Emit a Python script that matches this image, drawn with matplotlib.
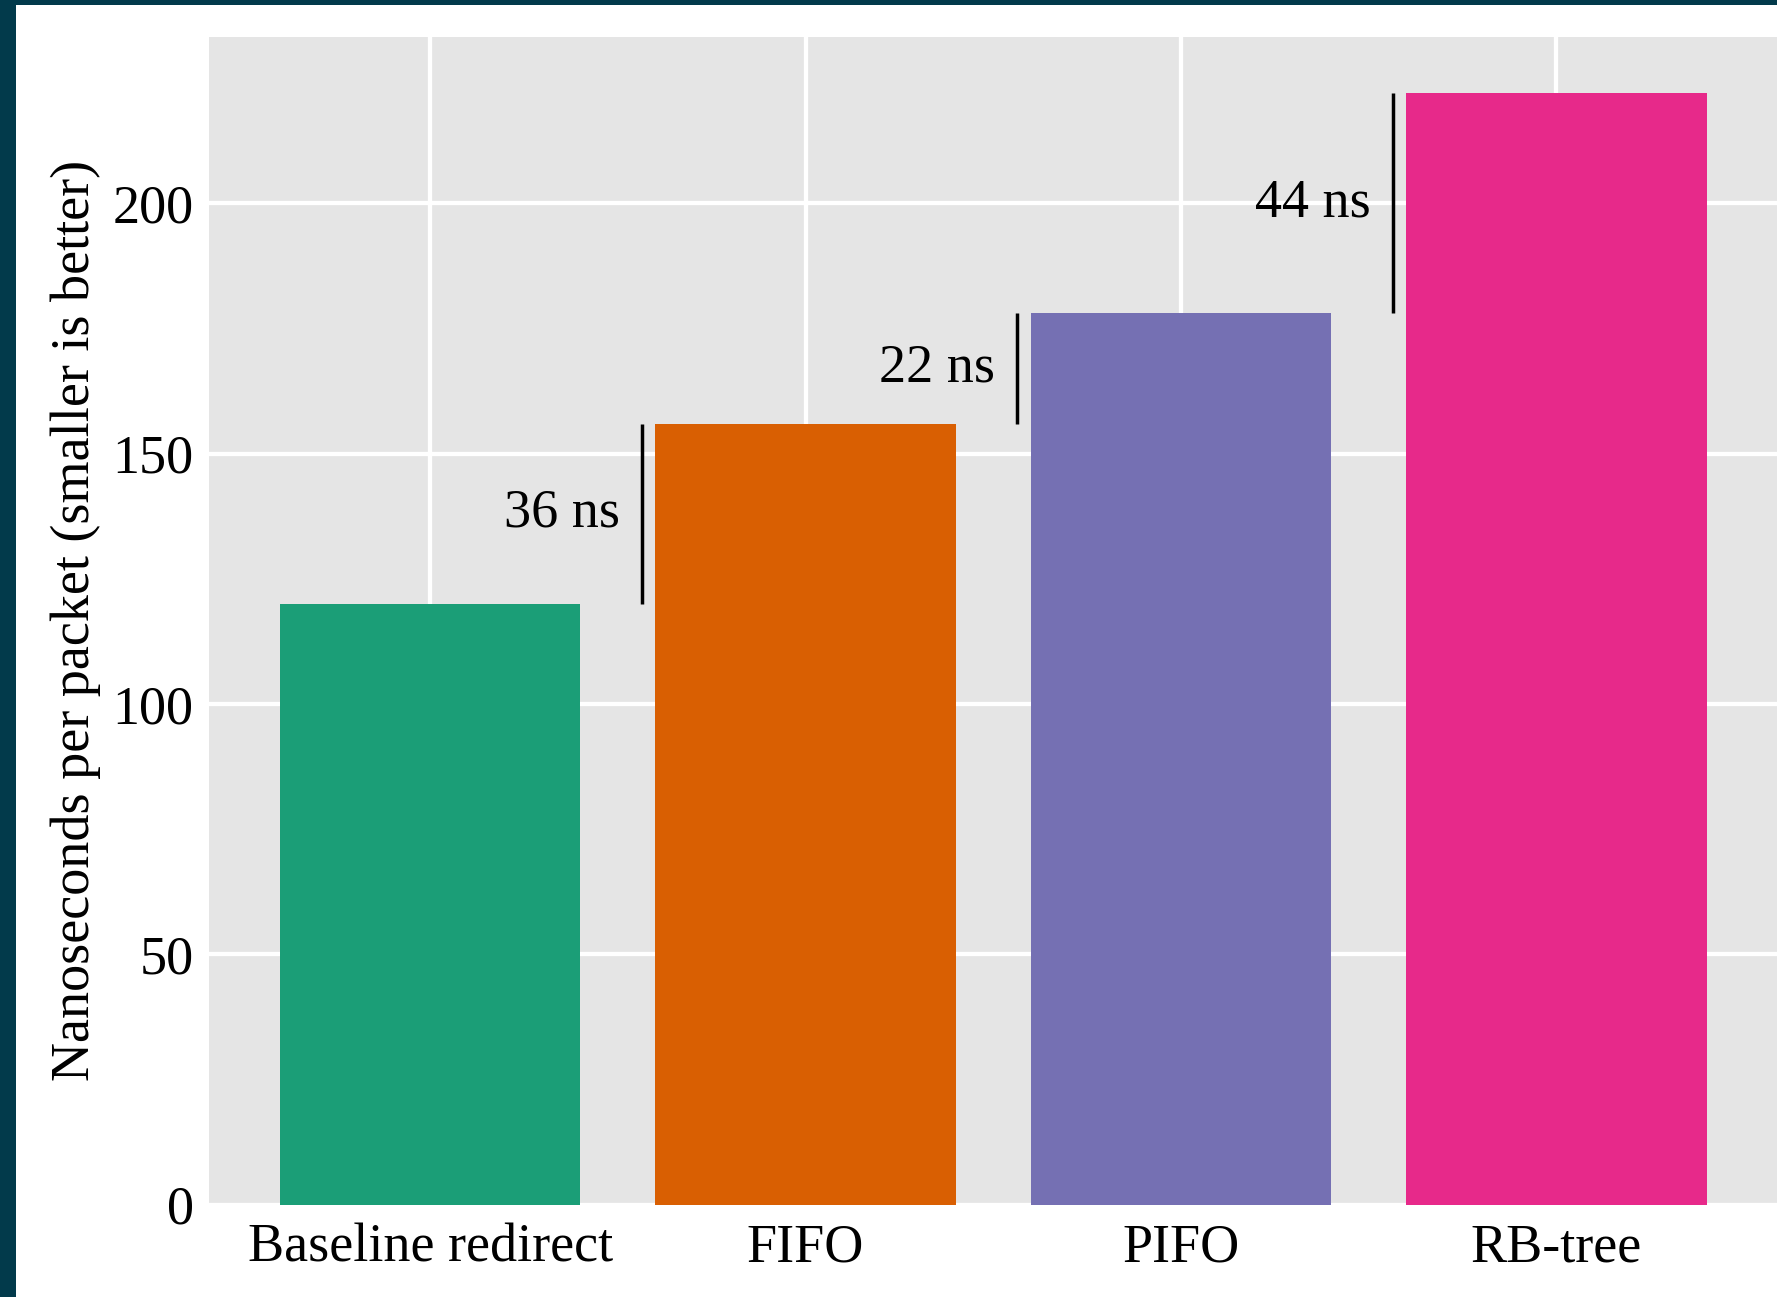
import matplotlib
matplotlib.use("Agg")
import matplotlib.pyplot as plt
from matplotlib.patches import Rectangle

# Per-packet cost of each queueing variant
categories = ["Baseline redirect", "FIFO", "PIFO", "RB-tree"]
ns_per_packet = [120, 156, 178, 222]
bar_colors = ["#1B9E77", "#D95F02", "#7570B3", "#E7298A"]
y_ticks = [0, 50, 100, 150, 200]

plt.rcParams["font.family"] = ["Liberation Serif", "DejaVu Serif"]
FS = 39

W, H = 1777, 1297
fig = plt.figure(figsize=(W / 100, H / 100), dpi=100)
fig.patch.set_facecolor("white")

ax = fig.add_axes([209 / W, 92.4 / H, (1777.5 - 209) / W, 1167.6 / H])
ax.set_facecolor("#E5E5E5")
for s in ax.spines.values():
    s.set_visible(False)

x = list(range(len(categories)))
ax.bar(x, ns_per_packet, width=0.8, color=bar_colors, zorder=2, linewidth=0)

ax.set_xlim(-0.589, len(categories) - 1 + 0.589)
ax.set_ylim(0, 233.2)
ax.set_xticks(x)
ax.set_xticklabels(categories, fontsize=FS)
ax.set_yticks(y_ticks)
ax.set_yticklabels([str(t) for t in y_ticks], fontsize=FS)
ax.tick_params(axis="both", length=0, colors="black")
ax.tick_params(axis="x", pad=13)
ax.tick_params(axis="y", pad=11)

ax.set_axisbelow(True)
ax.grid(True, color="white", linewidth=3.1)

ax.set_ylabel("Nanoseconds per packet (smaller is better)", fontsize=FS, labelpad=8)

# Step-up brackets: difference to the previous bar
for i in range(1, len(ns_per_packet)):
    lo, hi = ns_per_packet[i - 1], ns_per_packet[i]
    lx = i - 0.436
    ax.plot([lx, lx], [lo, hi], color="black", linewidth=2.5, zorder=3,
            solid_capstyle="butt")
    ax.annotate(f"{hi - lo} ns", xy=(lx, (lo + hi) / 2), xytext=(-16, 0),
                textcoords="offset points", ha="right", va="center",
                fontsize=FS, color="black", zorder=3)

# Frame edges
fig.patches.append(Rectangle((0, 0), 16 / W, 1, transform=fig.transFigure,
                             facecolor="#023A4B", edgecolor="none", zorder=10))
fig.patches.append(Rectangle((0, 1 - 5 / H), 1, 5 / H, transform=fig.transFigure,
                             facecolor="#023A4B", edgecolor="none", zorder=10))

fig.savefig("out.png", dpi=100, facecolor="white")
